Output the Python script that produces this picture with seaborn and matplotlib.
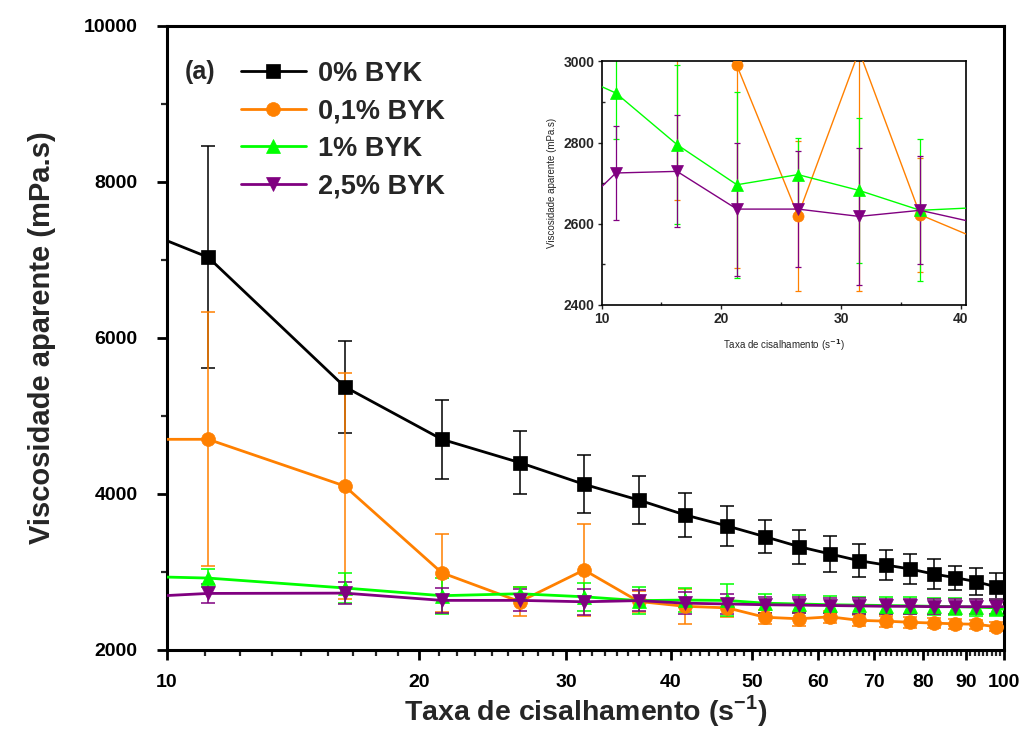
import numpy as np
import pandas as pd
import matplotlib
matplotlib.use("Agg")
import matplotlib.pyplot as plt
import seaborn as sns

# Shear rate (s^-1) of each measurement step
rate = [6.1, 11.2, 16.3, 21.3, 26.4, 31.5, 36.6, 41.6, 46.7, 51.8,
        56.9, 62.0, 67.1, 72.2, 77.3, 82.4, 87.5, 92.6, 97.7, 102.8]

# Apparent viscosity (mPa.s) and standard deviation for each BYK content
byk_0 = [8170, 7035, 5376, 4701, 4402, 4124, 3923, 3731, 3590, 3453,
         3325, 3231, 3145, 3090, 3038, 2974, 2927, 2876, 2812, 2770]
byk_0_err = [300, 1420, 590, 510, 405, 370, 305, 285, 260, 210,
             218, 228, 210, 197, 197, 188, 156, 175, 177, 150]

byk_01 = [4700, 4701, 4103, 2990, 2620, 3026, 2622, 2560, 2540, 2420,
          2400, 2425, 2380, 2370, 2355, 2345, 2335, 2330, 2300, 2290]
byk_01_err = [300, 1630, 1445, 500, 185, 593, 140, 225, 120, 90,
              90, 80, 70, 70, 70, 60, 60, 60, 60, 60]

byk_1 = [2990, 2922, 2795, 2696, 2721, 2682, 2633, 2640, 2635, 2600,
         2590, 2580, 2575, 2570, 2565, 2560, 2555, 2550, 2540, 2500]
byk_1_err = [100, 113, 195, 229, 90, 179, 175, 150, 205, 120,
             110, 110, 110, 110, 110, 110, 110, 110, 110, 110]

byk_25 = [2580, 2725, 2729, 2636, 2636, 2618, 2633, 2600, 2590, 2580,
          2575, 2570, 2565, 2560, 2560, 2555, 2555, 2555, 2555, 2555]
byk_25_err = [100, 117, 138, 164, 142, 168, 133, 140, 130, 100,
              100, 100, 100, 100, 100, 100, 100, 100, 100, 100]

labels = ["0% BYK", "0,1% BYK", "1% BYK", "2,5% BYK"]
colors = ["#000000", "#FF8000", "#00FF00", "#800080"]
markers = ["s", "o", "^", "v"]
means = [byk_0, byk_01, byk_1, byk_25]
errors = [byk_0_err, byk_01_err, byk_1_err, byk_25_err]

y_ticks = [2000, 4000, 6000, 8000, 10000]
x_tick_labels = [10, 20, 30, 40, 50, 60, 70, 80, 90, 100]
inset_y_ticks = [2400, 2600, 2800, 3000]
inset_x_ticks = [10, 20, 30, 40]

frames = []
for lab, m, e in zip(labels, means, errors):
    frames.append(pd.DataFrame({"rate": rate, "visc": m, "err": e, "amostra": lab}))
df = pd.concat(frames, ignore_index=True)

sns.set_theme(style="ticks")
plt.rcParams["font.family"] = ["Liberation Sans", "DejaVu Sans"]
plt.rcParams["font.weight"] = "bold"
plt.rcParams["axes.labelweight"] = "bold"

fig = plt.figure(figsize=(10.23, 7.49), dpi=100)
ax = fig.add_axes([0.1632, 0.1322, 0.8182, 0.8331])


def draw_series(axis, lw, ms, elw, cap):
    for lab, col, mk in zip(labels, colors, markers):
        sub = df[df["amostra"] == lab]
        axis.errorbar(sub["rate"], sub["visc"], yerr=sub["err"], fmt="none",
                      ecolor=col, elinewidth=elw, capsize=cap, capthick=elw,
                      zorder=2, label="_nolegend_")
        sns.lineplot(data=sub, x="rate", y="visc", ax=axis, color=col,
                     marker=mk, markersize=ms, markeredgecolor=col,
                     markeredgewidth=0.5, linewidth=lw, label=lab,
                     sort=False, errorbar=None, zorder=3)


draw_series(ax, 2.0, 10, 1.1, 5)

ax.set_xscale("log")
ax.set_xlim(10, 100)
ax.set_ylim(2000, 10000)
ax.set_xticks(x_tick_labels)
ax.set_xticklabels([str(v) for v in x_tick_labels])
minor_x = np.concatenate([np.linspace(10 * k, 10 * (k + 1), 10)[1:-1] for k in range(1, 10)])
ax.set_xticks(minor_x, minor=True)
ax.set_yticks(y_ticks)
ax.set_yticks([3000, 5000, 7000, 9000], minor=True)
ax.xaxis.set_minor_formatter(matplotlib.ticker.NullFormatter())

for s in ax.spines.values():
    s.set_linewidth(2.2)
    s.set_color("black")
ax.tick_params(axis="both", which="major", direction="out", length=7, width=2,
               labelsize=14, colors="black")
ax.tick_params(axis="x", which="major", pad=10)
ax.tick_params(axis="y", which="major", pad=14)
ax.tick_params(axis="both", which="minor", direction="out", length=4, width=1.6)
ax.tick_params(top=False, right=False, which="both")
for t in ax.get_xticklabels() + ax.get_yticklabels():
    t.set_fontweight("bold")

ax.set_xlabel("Taxa de cisalhamento (s$^{\\mathregular{-1}}$)", fontsize=20.5,
              fontweight="bold", labelpad=2)
ax.set_ylabel("Viscosidade aparente (mPa.s)", fontsize=21, fontweight="bold",
              labelpad=20)

leg = ax.legend(loc="upper left", bbox_to_anchor=(0.088, 0.944), frameon=False,
                handlelength=2.4, handletextpad=0.45,
                labelspacing=0.42, borderpad=0, borderaxespad=0,
                prop={"weight": "bold", "size": 19.5})
ax.text(0.021, 0.926, "(a)", transform=ax.transAxes, fontsize=18,
        fontweight="bold", va="center", ha="left")

# Inset: zoom on the low-shear region, linear axis
ins = fig.add_axes([0.588, 0.593, 0.356, 0.325])
draw_series(ins, 1.0, 8, 0.9, 2.5)
if ins.get_legend() is not None:
    ins.get_legend().remove()
ins.set_xlim(10, 40.4)
ins.set_ylim(2400, 3000)
ins.set_xticks(inset_x_ticks)
ins.set_xticks([15, 25, 35], minor=True)
ins.set_yticks(inset_y_ticks)
ins.set_yticks([2500, 2700, 2900], minor=True)
for s in ins.spines.values():
    s.set_linewidth(1.2)
    s.set_color("black")
ins.tick_params(axis="both", which="major", direction="out", length=3, width=1,
                labelsize=10, pad=2)
ins.tick_params(axis="both", which="minor", direction="in", length=2.5, width=1)
for t in ins.get_xticklabels() + ins.get_yticklabels():
    t.set_fontweight("bold")
ins.set_xlabel("Taxa de cisalhamento (s$^{-1}$)", fontsize=7, fontweight="normal", labelpad=8)
ins.set_ylabel("Viscosidade aparente (mPa.s)", fontsize=7, fontweight="normal", labelpad=5)
ins.set_facecolor("white")

fig.savefig("out.png", dpi=100, facecolor="white")
